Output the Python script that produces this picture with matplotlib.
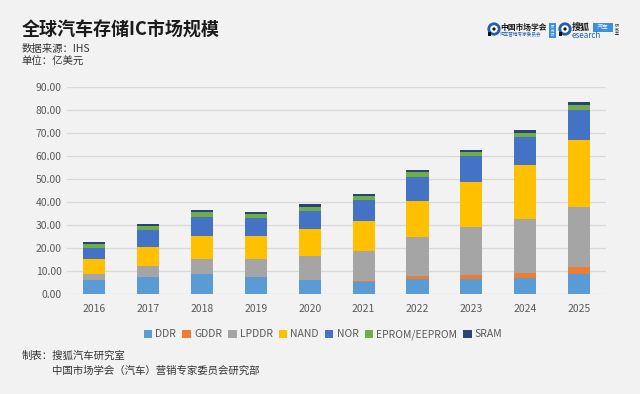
import matplotlib.pyplot as plt
import matplotlib.patches as mpatches
import numpy as np

plt.rcParams['font.family'] = ['Noto Sans CJK SC', 'DejaVu Sans']

years = ['2016', '2017', '2018', '2019', '2020', '2021', '2022', '2023', '2024', '2025']
ddr = [6.1, 7.5, 8.6, 7.3, 6.1, 5.3, 6.7, 6.7, 7.1, 8.6]
gddr = [0.0, 0.0, 0.0, 0.0, 0.0, 0.5, 1.2, 1.5, 2.2, 3.0]
lpddr = [2.5, 4.8, 6.5, 7.8, 10.4, 12.9, 16.7, 21.1, 23.5, 26.1]
nand = [6.5, 8.0, 10.1, 10.1, 11.6, 13.0, 16.0, 19.4, 23.5, 29.3]
nor = [4.8, 7.7, 8.4, 7.7, 8.1, 9.0, 10.3, 11.3, 12.0, 13.0]
eprom = [1.7, 1.6, 1.9, 1.9, 1.7, 1.9, 2.0, 1.7, 1.9, 2.2]
sram = [0.9, 0.9, 1.0, 0.7, 1.2, 1.0, 0.9, 0.9, 1.2, 1.2]

series = [
    ('DDR', ddr, '#5b9bd5'),
    ('GDDR', gddr, '#ed7d31'),
    ('LPDDR', lpddr, '#a5a5a5'),
    ('NAND', nand, '#ffc000'),
    ('NOR', nor, '#4472c4'),
    ('EPROM/EEPROM', eprom, '#70ad47'),
    ('SRAM', sram, '#264478'),
]

bg = '#f2f2f2'
fig = plt.figure(figsize=(6.4, 3.94), dpi=100, facecolor=bg)
ax = fig.add_axes([0.105, 0.254, 0.842, 0.525], facecolor=bg)

x = np.arange(len(years))
bottom = np.zeros(len(years))
for name, vals, color in series:
    ax.bar(x, vals, 0.41, bottom=bottom, color=color, label=name, zorder=3)
    bottom += np.array(vals)

ax.set_xlim(-0.5, len(years) - 0.5)
ax.set_ylim(0, 90)
ax.set_yticks(np.arange(0, 91, 10))
ax.set_yticklabels([f'{v:.2f}' for v in range(0, 91, 10)])
ax.set_xticks(x)
ax.set_xticklabels(years)
ax.grid(axis='y', color='#d9d9d9', linewidth=0.9, zorder=0)
for s in ax.spines.values():
    s.set_visible(False)
ax.tick_params(axis='both', length=0, labelsize=7.5, colors='#595959', pad=4)
ax.tick_params(axis='x', pad=7)

ax.legend(loc='upper center', bbox_to_anchor=(0.475, -0.125), ncol=7, frameon=False,
          fontsize=7.5, handlelength=0.8, handleheight=0.8, handletextpad=0.3,
          columnspacing=0.6, labelcolor='#595959')

# header text
fig.text(0.034, 0.924, '全球汽车存储IC市场规模', fontsize=13, fontweight='bold',
         color='#1a1a1a', va='center')
fig.text(0.034, 0.876, '数据来源：IHS', fontsize=7.5, color='#333333', va='center')
fig.text(0.034, 0.843, '单位：亿美元', fontsize=7.5, color='#333333', va='center')

# footer text
fig.text(0.034, 0.097, '制表：搜狐汽车研究室', fontsize=7.5, color='#333333', va='center')
fig.text(0.081, 0.060, '中国市场学会（汽车）营销专家委员会研究部', fontsize=7.5,
         color='#333333', va='center')

# logo block top right, drawn in pixel coordinates
lg = fig.add_axes([0, 0, 1, 1], facecolor='none')
lg.set_xlim(0, 640)
lg.set_ylim(394, 0)
lg.set_axis_off()
blue = '#1f5fae'
light = '#3d8fe0'


def q_icon(cx, cy):
    lg.add_patch(mpatches.Circle((cx, cy), 5.2, facecolor='white', edgecolor=blue, linewidth=2.0))
    lg.add_patch(mpatches.Circle((cx, cy), 1.6, facecolor='#111111', edgecolor='none'))
    lg.add_patch(mpatches.Rectangle((cx - 6.5, cy + 3), 3.5, 4, facecolor='#111111', edgecolor='none'))


q_icon(494, 29)
lg.text(500, 27, '中国市场学会', fontsize=5.6, color='#1a1a1a', va='center', fontweight='bold')
lg.text(500, 34.5, '汽车营销专家委员会', fontsize=3.3, color=blue, va='center')
lg.add_patch(mpatches.Rectangle((549, 23), 7, 15, facecolor=light, edgecolor='none'))
lg.text(552.5, 30.5, '研\n究\n部', fontsize=2.4, color='white', ha='center', va='center', linespacing=1.0)
q_icon(565, 29)
lg.text(572, 27, '搜狐', fontsize=6.5, color='#1a1a1a', va='center', fontweight='bold')
lg.add_patch(mpatches.Rectangle((593, 23), 20, 9, facecolor=light, edgecolor='none'))
lg.text(603, 27.5, '汽车', fontsize=4.2, color='white', ha='center', va='center')
lg.text(572, 35.5, 'esearch', fontsize=5.8, color=blue, va='center')
lg.text(617, 30, '研\n究\n室', fontsize=2.8, color='#333333', ha='center', va='center', linespacing=1.0)

fig.savefig('out.png', dpi=100, facecolor=bg)
